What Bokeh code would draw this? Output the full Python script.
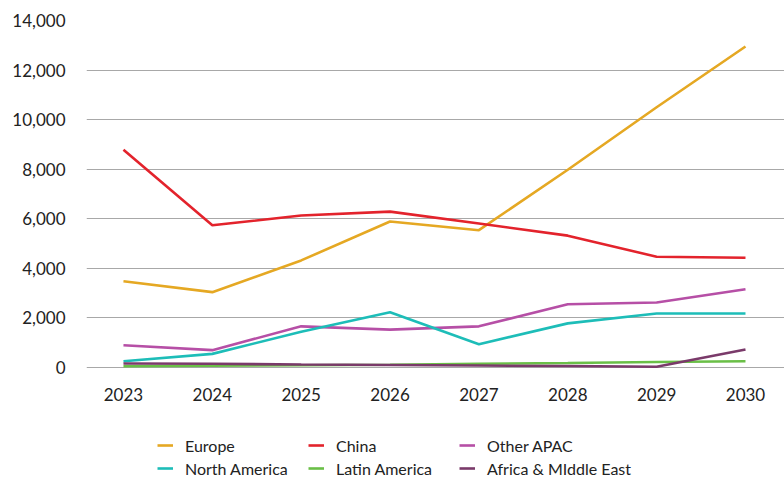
from bokeh.plotting import figure
from bokeh.models import Range1d, FixedTicker, NumeralTickFormatter, Legend, LegendItem
from bokeh.embed import file_html
from bokeh.resources import INLINE

years = [2023, 2024, 2025, 2026, 2027, 2028, 2029, 2030]
year_labels = ["2023", "2024", "2025", "2026", "2027", "2028", "2029", "2030"]

europe = [3480, 3040, 4320, 5890, 5540, 7980, 10500, 12950]
china = [8790, 5740, 6130, 6290, 5810, 5320, 4470, 4430]
other_apac = [900, 700, 1660, 1530, 1660, 2550, 2620, 3160]
north_america = [250, 550, 1440, 2230, 940, 1780, 2180, 2180]
latin_america = [50, 70, 90, 110, 150, 180, 220, 250]
africa_me = [160, 150, 120, 100, 80, 60, 30, 730]

series_names = ["Europe", "China", "Other APAC", "North America", "Latin America", "Africa & MIddle East"]
series_values = [europe, china, other_apac, north_america, latin_america, africa_me]
series_colors = ["#E5A823", "#E3232C", "#B64FA6", "#1DBDB8", "#6ABF47", "#7A3A6A"]
legend_order = [0, 3, 1, 4, 2, 5]

y_ticks = [0, 2000, 4000, 6000, 8000, 10000, 12000, 14000]

FONT = "Lato"

p = figure(width=784, height=478, output_backend="svg", toolbar_location=None,
           x_range=Range1d(2022.584, 2030.439), y_range=Range1d(-4478, 14000),
           min_border_left=86, min_border_top=20, min_border_right=0, min_border_bottom=0)
p.outline_line_color = None
p.background_fill_color = "white"
p.border_fill_color = "white"

renderers = []
for name, vals, col in zip(series_names, series_values, series_colors):
    r = p.line(years, vals, line_color=col, line_width=2.6)
    renderers.append(r)

items = [LegendItem(label=series_names[i], renderers=[renderers[i]]) for i in legend_order]

p.xgrid.visible = False
p.ygrid.grid_line_color = "#A8A8A8"
p.ygrid.grid_line_width = 1.2
p.ygrid.ticker = FixedTicker(ticks=y_ticks)

p.yaxis.ticker = FixedTicker(ticks=y_ticks)
p.yaxis.formatter = NumeralTickFormatter(format="0,0")
p.yaxis.axis_line_color = None
p.yaxis.major_tick_line_color = None
p.yaxis.minor_tick_line_color = None
p.yaxis.major_label_text_font = FONT
p.yaxis.major_label_text_font_size = "17px"
p.yaxis.major_label_text_color = "#222222"
p.yaxis.major_label_standoff = 15

p.xaxis.fixed_location = 0
p.xaxis.ticker = FixedTicker(ticks=years)
p.xaxis.major_label_overrides = {y: s for y, s in zip(years, year_labels)}
p.xaxis.axis_line_color = None
p.xaxis.major_tick_line_color = None
p.xaxis.minor_tick_line_color = None
p.xaxis.major_label_text_font = FONT
p.xaxis.major_label_text_font_size = "17px"
p.xaxis.major_label_text_color = "#222222"
p.xaxis.major_label_standoff = 14

legend = Legend(items=items, nrows=2, orientation="vertical",
                location=(71, 0), border_line_color=None, background_fill_alpha=0,
                label_text_font=FONT, label_text_font_size="16px", label_text_color="#222222",
                glyph_width=16, glyph_height=14, label_standoff=12, spacing=3,
                padding=0, margin=0, label_height=20, label_width=120)
p.add_layout(legend)

open("out.html", "w").write(file_html(p, INLINE))
